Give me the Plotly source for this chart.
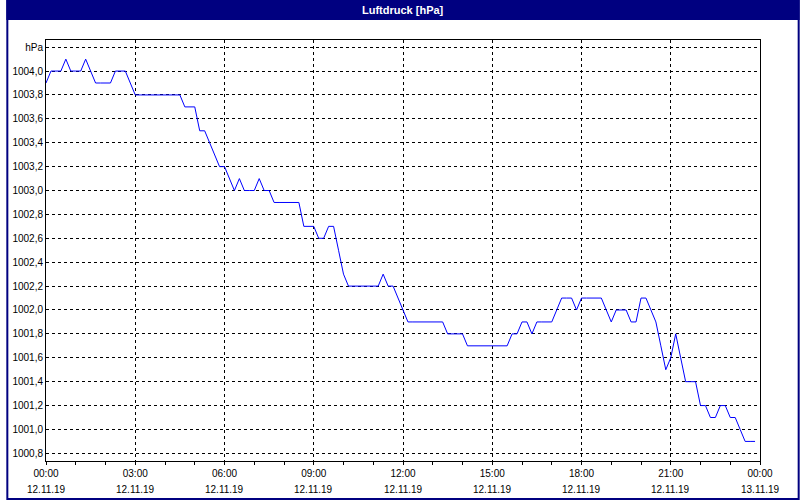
import pandas as pd
import plotly.graph_objects as go

# Luftdruck, 10-Minuten-Werte ab 12.11.19 00:00
start = "2019-11-12 00:00"
pressure = [
    1003.9, 1004.0, 1004.0, 1004.0, 1004.1, 1004.0, 1004.0, 1004.0, 1004.1, 1004.0,
    1003.9, 1003.9, 1003.9, 1003.9, 1004.0, 1004.0, 1004.0, 1003.9, 1003.8, 1003.8,
    1003.8, 1003.8, 1003.8, 1003.8, 1003.8, 1003.8, 1003.8, 1003.8, 1003.7, 1003.7,
    1003.7, 1003.5, 1003.5, 1003.4, 1003.3, 1003.2, 1003.2, 1003.1, 1003.0, 1003.1,
    1003.0, 1003.0, 1003.0, 1003.1, 1003.0, 1003.0, 1002.9, 1002.9, 1002.9, 1002.9,
    1002.9, 1002.9, 1002.7, 1002.7, 1002.7, 1002.6, 1002.6, 1002.7, 1002.7, 1002.5,
    1002.3, 1002.2, 1002.2, 1002.2, 1002.2, 1002.2, 1002.2, 1002.2, 1002.3, 1002.2,
    1002.2, 1002.1, 1002.0, 1001.9, 1001.9, 1001.9, 1001.9, 1001.9, 1001.9, 1001.9,
    1001.9, 1001.8, 1001.8, 1001.8, 1001.8, 1001.7, 1001.7, 1001.7, 1001.7, 1001.7,
    1001.7, 1001.7, 1001.7, 1001.7, 1001.8, 1001.8, 1001.9, 1001.9, 1001.8, 1001.9,
    1001.9, 1001.9, 1001.9, 1002.0, 1002.1, 1002.1, 1002.1, 1002.0, 1002.1, 1002.1,
    1002.1, 1002.1, 1002.1, 1002.0, 1001.9, 1002.0, 1002.0, 1002.0, 1001.9, 1001.9,
    1002.1, 1002.1, 1002.0, 1001.9, 1001.7, 1001.5, 1001.6, 1001.8, 1001.6, 1001.4,
    1001.4, 1001.4, 1001.2, 1001.2, 1001.1, 1001.1, 1001.2, 1001.2, 1001.1, 1001.1,
    1001.0, 1000.9, 1000.9, 1000.9,
]
times = pd.date_range(start, periods=len(pressure), freq="10min")

# Achsenbeschriftung
x_ticks = ["2019-11-12 00:00", "2019-11-12 03:00", "2019-11-12 06:00",
           "2019-11-12 09:00", "2019-11-12 12:00", "2019-11-12 15:00",
           "2019-11-12 18:00", "2019-11-12 21:00", "2019-11-13 00:00"]
x_time_labels = ["00:00", "03:00", "06:00", "09:00", "12:00",
                 "15:00", "18:00", "21:00", "00:00"]
x_date_labels = ["12.11.19", "12.11.19", "12.11.19", "12.11.19", "12.11.19",
                 "12.11.19", "12.11.19", "12.11.19", "13.11.19"]
y_ticks = [1000.8, 1001.0, 1001.2, 1001.4, 1001.6, 1001.8, 1002.0,
           1002.2, 1002.4, 1002.6, 1002.8, 1003.0, 1003.2, 1003.4,
           1003.6, 1003.8, 1004.0, 1004.2]
y_labels = [f"{v:.1f}".replace(".", ",") for v in y_ticks[:-1]] + ["hPa"]

navy = "#000080"
font = dict(family="Liberation Sans, Arial", size=10, color="black")

fig = go.Figure(go.Scatter(
    x=times, y=pressure, mode="lines",
    line=dict(color="#0000ff", width=1), hoverinfo="x+y",
))

fig.update_layout(
    width=800, height=500,
    margin=dict(l=40, r=40, t=40, b=39),
    paper_bgcolor="white", plot_bgcolor="white",
    showlegend=False, font=font,
)

fig.update_xaxes(
    range=[x_ticks[0], x_ticks[-1]],
    tickmode="array", tickvals=x_ticks, ticktext=x_time_labels,
    ticks="outside", ticklen=3, tickcolor="black",
    minor=dict(dtick=3600000, ticks="outside", ticklen=3, tickcolor="black", showgrid=False),
    showgrid=True, gridcolor="black", gridwidth=1, griddash="3px,3px",
    showline=True, linecolor="black", linewidth=1, mirror=True,
    ticklabelstandoff=0, zeroline=False,
)
fig.update_yaxes(
    range=[1000.736, 1004.26],
    tickmode="array", tickvals=y_ticks, ticktext=y_labels,
    ticks="", showgrid=True, gridcolor="black", gridwidth=1, griddash="3px,3px",
    showline=True, linecolor="black", linewidth=1, mirror=True,
    zeroline=False,
)

# Datumszeile unter den Uhrzeiten
for xv, lab in zip(x_ticks, x_date_labels):
    fig.add_annotation(x=xv, y=0, xref="x", yref="paper", text=lab,
                       showarrow=False, yanchor="middle", yshift=-28, font=font)

# Titelleiste und Rahmen
fig.add_shape(type="rect", xref="paper", yref="paper",
              x0=-40 / 720, x1=1 + 40 / 720, y0=1 + 20 / 421, y1=1 + 40 / 421,
              fillcolor=navy, line=dict(width=0), layer="below")
fig.add_shape(type="rect", xref="paper", yref="paper",
              x0=-39 / 720, x1=1 + 39 / 720, y0=-38 / 421, y1=1 + 39 / 421,
              fillcolor="rgba(0,0,0,0)", line=dict(color=navy, width=2))
fig.add_annotation(x=0.5, y=1 + 30.5 / 421, xref="paper", yref="paper",
                   yanchor="middle", text="<b>Luftdruck [hPa]</b>", showarrow=False,
                   font=dict(family="Liberation Sans, Arial", size=11, color="white"))

# Seitenrand des Browsers entfernen, damit die Grafik bei 0,0 beginnt
fig.write_html("out.html", config={"displayModeBar": False},
               post_script="document.body.style.margin='0';")
